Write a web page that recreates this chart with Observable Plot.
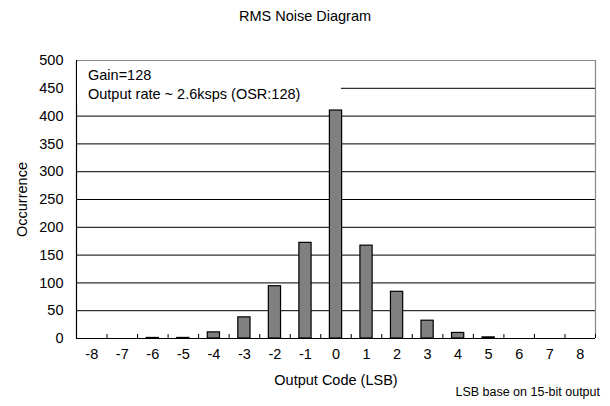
<!DOCTYPE html>
<html>
<head>
<meta charset="utf-8">
<script src="https://cdn.jsdelivr.net/npm/d3@7"></script>
<script src="https://cdn.jsdelivr.net/npm/@observablehq/plot@0.6"></script>
<style>
  html, body { margin: 0; padding: 0; background: #fff; }
  #wrap { position: relative; width: 610px; height: 406px; font-family: "Liberation Sans", Arial, sans-serif; color: #000; }
  #title { position: absolute; left: 0; width: 610px; top: 8px; text-align: center; font-size: 14.5px; line-height: 17px; }
  #note { position: absolute; left: 77px; top: 62px; width: 264px; height: 41px; background: #fff; font-size: 14.5px; line-height: 19px; padding-left: 11px; box-sizing: border-box; padding-top: 4px; }
  #caption { position: absolute; right: 10px; top: 384px; font-size: 12.5px; line-height: 16px; }
</style>
</head>
<body>
<div id="wrap">
  <div id="chart"></div>
  <div id="title">RMS Noise Diagram</div>
  <div id="note">Gain=128<br>Output rate ~ 2.6ksps (OSR:128)</div>
  <div id="caption">LSB base on 15-bit output</div>
</div>
<script>
const codes = [-8, -7, -6, -5, -4, -3, -2, -1, 0, 1, 2, 3, 4, 5, 6, 7, 8];
const counts = [0, 0, 1, 1, 11, 38, 94, 172, 410, 167, 84, 32, 10, 2, 0, 0, 0];
const yTicks = [0, 50, 100, 150, 200, 250, 300, 350, 400, 450, 500];
const gridLines = [50, 100, 150, 200, 250, 300, 350, 400, 450];

const data = codes.map((c, i) => ({code: c, count: counts[i]}));
const halfWidth = 0.2;
const bounds = [...codes.map(c => c - 0.5), codes[codes.length - 1] + 0.5];
const xMin = bounds[0], xMax = bounds[bounds.length - 1];

const chart = Plot.plot({
  width: 610,
  height: 406,
  marginTop: 60,
  marginBottom: 68,
  marginLeft: 76,
  marginRight: 15,
  style: {fontFamily: '"Liberation Sans", Arial, sans-serif', fontSize: "14.5px", color: "#000", background: "#fff"},
  x: {domain: [xMin, xMax]},
  y: {domain: [0, 500]},
  marks: [
    Plot.ruleY(gridLines, {stroke: "#000", strokeWidth: 1}),
    Plot.ruleY([500], {stroke: "#888", strokeWidth: 1.2}),
    Plot.ruleX([xMax], {stroke: "#888", strokeWidth: 1.2}),
    Plot.rectY(data.filter(d => d.count > 0), {
      x1: d => d.code - halfWidth,
      x2: d => d.code + halfWidth,
      y: "count",
      fill: "#808080",
      stroke: "#000",
      strokeWidth: 1.2
    }),
    Plot.axisY({ticks: yTicks, tickSize: 0, tickPadding: 13, label: "Occurrence", labelAnchor: "center", labelOffset: 60, labelArrow: "none"}),
    Plot.axisX({ticks: codes, tickSize: 0, tickPadding: 10, tickFormat: d => String(d), label: "Output Code (LSB)", labelAnchor: "center", labelOffset: 46, labelArrow: "none"}),
    Plot.axisX({ticks: bounds, tickSize: 4, dy: -4, tickFormat: () => "", label: null, stroke: "#000"}),
    Plot.ruleY([0], {stroke: "#000", strokeWidth: 1.2}),
    Plot.ruleX([xMin], {stroke: "#000", strokeWidth: 1.2})
  ]
});
document.getElementById("chart").appendChild(chart);
</script>
</body>
</html>
